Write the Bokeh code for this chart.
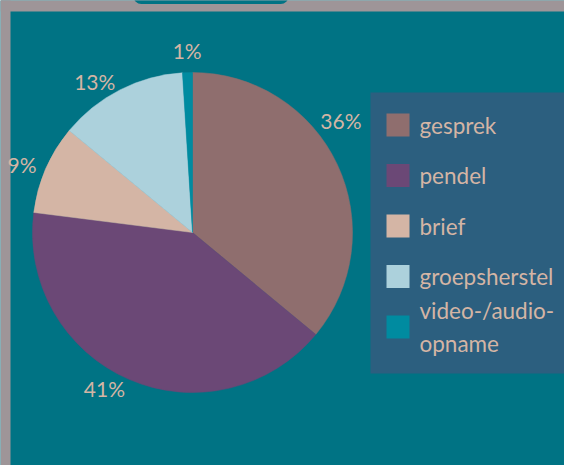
import numpy as np
from bokeh.plotting import figure
from bokeh.models import Range1d, ColumnDataSource
from bokeh.core.properties import value
from bokeh.embed import file_html
from bokeh.resources import INLINE

# ---- data ----
categories = ["gesprek", "pendel", "brief", "groepsherstel", "video-/audio-\nopname"]
percentages = [36, 41, 9, 13, 1]
colors = ["#8f6e6e", "#6b4876", "#d4b5a5", "#acd1dc", "#008ba0"]

# ---- styles ----
BG = "#007384"
FRAME = "#9e9598"
LEGEND_BG = "#2c5f7f"
TEXT = "#d4b5a5"
FONT = "Lato"
LABEL_PX = 21
LEGEND_PX = 22.5

W, H = 564, 465
p = figure(width=W, height=H, output_backend="svg", toolbar_location=None,
           x_range=Range1d(0, W), y_range=Range1d(-H, 0),
           min_border=0, x_axis_location=None, y_axis_location=None)
p.grid.visible = False
p.outline_line_color = None
p.background_fill_color = BG
p.border_fill_color = BG

# ---- page frame (grey border + tab) ----
p.quad(left=[0, 0], right=[10, W + 5], top=[5, 5], bottom=[-H - 5, -11],
       fill_color=FRAME, line_color=None)
p.quad(left=133, right=288, top=12, bottom=-3.5, fill_color=BG, line_color=None,
       border_radius=9)

# ---- pie ----
cx, cy, R = 192, -232, 160
vals = np.array(percentages, dtype=float)
fr = vals / vals.sum()
cum = np.cumsum(fr)
prev = np.concatenate([[0], cum[:-1]])
start = np.pi / 2 - 2 * np.pi * prev
end = np.pi / 2 - 2 * np.pi * cum
src = ColumnDataSource(dict(start=start, end=end, color=colors))
p.wedge(x=cx, y=cy, radius=R, start_angle="start", end_angle="end",
        direction="clock", fill_color="color", line_color="color", line_width=0.5,
        source=src)

# ---- percentage labels (outside, aligned away from the pie) ----
legend_left = 370
mid = 2 * np.pi * (prev + cum) / 2  # clockwise from top
RL = 170
labels = [f"{v}%" for v in percentages]
lx, ly, la, lb = [], [], [], []
for m, t in zip(mid, labels):
    tw = len(t) * 0.63 * LABEL_PX
    th = m
    s, c = np.sin(th), np.cos(th)
    align = "right" if s < -0.3 else ("left" if s > 0.3 else "center")
    base = "bottom" if c > 0.95 else ("top" if c < -0.95 else "middle")
    x = cx + RL * s
    right_edge = x + (tw if align == "left" else tw / 2 if align == "center" else 0)
    while right_edge > legend_left - 10 and th > 0:
        th -= 0.01
        x = cx + RL * np.sin(th)
        right_edge = x + (tw if align == "left" else tw / 2 if align == "center" else 0)
    lx.append(x)
    ly.append(cy + RL * np.cos(th))
    la.append(align)
    lb.append(base)
lsrc = ColumnDataSource(dict(x=lx, y=ly, text=labels, align=la, base=lb))
p.text(x="x", y="y", text="text", text_align="align", text_baseline="base",
       text_color=TEXT, text_font=value(FONT), text_font_size=f"{LABEL_PX}px",
       source=lsrc)

# ---- legend ----
p.quad(left=legend_left, right=W + 10, top=-92, bottom=-373, fill_color=LEGEND_BG,
       line_color=None)
n = len(categories)
iy = [-(124.5 + i * 50.5) for i in range(n)]
p.rect(x=[397.5] * n, y=iy, width=23, height=23, fill_color=colors, line_color=None)
p.text(x=[419] * n, y=iy, text=categories, text_align="left", text_baseline="middle",
       text_color=TEXT, text_font=value(FONT), text_font_size=f"{LEGEND_PX}px",
       text_line_height=1.2)

open("out.html", "w").write(file_html(p, INLINE))
